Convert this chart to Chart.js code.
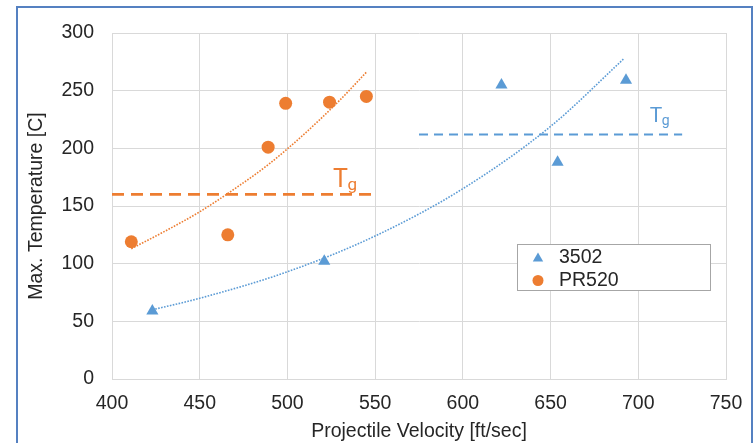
<!DOCTYPE html>
<html>
<head>
<meta charset="utf-8">
<script src="https://cdn.jsdelivr.net/npm/chart.js@4"></script>
<style>
html,body{margin:0;padding:0;background:#fff}
#wrap{position:relative;width:756px;height:443px;overflow:hidden}
#frame{position:absolute;left:16px;top:6px;width:737px;height:470px;border:2px solid #5581c1;box-sizing:border-box}
canvas{position:absolute;left:0;top:0}
</style>
</head>
<body>
<div id="wrap"><div id="frame"></div><canvas id="grafico" width="756" height="443"></canvas></div>
<script>
let nomes=['3502','PR520']
let vel3502=[423, 521, 622, 654, 693]
let temp3502=[59, 102, 255, 188, 259]
let velPR520=[411, 466, 489, 499, 524, 545]
let tempPR520=[119, 125, 201, 239, 240, 245]
// linhas de tendencia (exponencial)
let tendVel3502=[423, 450, 500, 550, 600, 650, 692]
let tendTemp3502=[60, 70, 93, 124, 165, 219, 278]
let tendVelPR520=[411, 430, 450, 470, 490, 510, 530, 545]
let tendTempPR520=[113, 128, 145, 165, 187, 213, 242, 266]
// Tg
let tgVel3502=[575, 725]
let tgTemp3502=[212, 212]
let tgVelPR520=[400, 549]
let tgTempPR520=[160, 160]
let eixoX=[400, 450, 500, 550, 600, 650, 700, 750]
let eixoY=[0, 50, 100, 150, 200, 250, 300]

const azul='#5B9BD5'
const laranja='#ED7D31'
const fonte='"Liberation Sans", Arial, sans-serif'
const fonteTg='Roboto, "DejaVu Sans", sans-serif'

function pares(xs, ys){
    return xs.map((v,i)=>({x:v, y:ys[i]}))
}

function tgTexto(ctx, x, y, tam, cor){
    ctx.fillStyle=cor
    ctx.textBaseline='alphabetic'
    ctx.textAlign='left'
    ctx.font=tam+'px '+fonteTg
    ctx.fillText('T', x, y)
    let w=ctx.measureText('T').width
    ctx.font=Math.round(tam*0.68)+'px '+fonteTg
    ctx.fillText('g', x+w-0.5, y+3)
}

const extras={
    id:'extras',
    afterDatasetsDraw(chart){
        const {ctx, scales:{x, y}}=chart
        ctx.save()
        tgTexto(ctx, x.getPixelForValue(526), y.getPixelForValue(166.5), 25, laranja)
        tgTexto(ctx, x.getPixelForValue(706.5), y.getPixelForValue(222.8), 21, azul)

        // legenda
        ctx.fillStyle='#fff'
        ctx.strokeStyle='#a6a6a6'
        ctx.lineWidth=1
        ctx.fillRect(517.5, 244.5, 193, 46)
        ctx.strokeRect(517.5, 244.5, 193, 46)
        ctx.fillStyle=azul
        Chart.helpers.drawPoint(ctx, {pointStyle:'triangle', radius:6, rotation:0, borderWidth:0}, 538, 258.5)
        ctx.fillStyle=laranja
        Chart.helpers.drawPoint(ctx, {pointStyle:'circle', radius:5.5, rotation:0, borderWidth:0}, 538, 280.5)
        ctx.fillStyle='#262626'
        ctx.font='19.5px '+fonte
        ctx.textBaseline='middle'
        ctx.fillText(nomes[0], 559, 257.5)
        ctx.fillText(nomes[1], 559, 280.5)
        ctx.restore()
    }
}

const ctx=document.getElementById('grafico')
new Chart(ctx, {
    type:'scatter',
    data:{
        datasets:[{
            label:nomes[0],
            data:pares(vel3502, temp3502),
            pointStyle:'triangle',
            pointRadius:7,
            pointHoverRadius:7,
            backgroundColor:azul,
            borderColor:azul,
            borderWidth:0
        },{
            label:nomes[1],
            data:pares(velPR520, tempPR520),
            pointStyle:'circle',
            pointRadius:6.5,
            pointHoverRadius:6.5,
            backgroundColor:laranja,
            borderColor:laranja,
            borderWidth:0
        },{
            label:'tend 3502',
            data:pares(tendVel3502, tendTemp3502),
            showLine:true,
            pointRadius:0,
            borderColor:azul,
            borderWidth:1.6,
            borderDash:[1.6, 1.4],
            cubicInterpolationMode:'monotone'
        },{
            label:'tend PR520',
            data:pares(tendVelPR520, tendTempPR520),
            showLine:true,
            pointRadius:0,
            borderColor:laranja,
            borderWidth:1.6,
            borderDash:[1.6, 1.4],
            cubicInterpolationMode:'monotone'
        },{
            label:'Tg 3502',
            data:pares(tgVel3502, tgTemp3502),
            showLine:true,
            pointRadius:0,
            borderColor:azul,
            borderWidth:2.2,
            borderDash:[9, 6]
        },{
            label:'Tg PR520',
            data:pares(tgVelPR520, tgTempPR520),
            showLine:true,
            pointRadius:0,
            borderColor:laranja,
            borderWidth:2.8,
            borderDash:[12, 7]
        }]
    },
    options:{
        responsive:false,
        animation:false,
        devicePixelRatio:1,
        layout:{padding:{left:25, right:30, top:33, bottom:0}},
        plugins:{
            legend:{display:false},
            tooltip:{enabled:false}
        },
        scales:{
            x:{
                type:'linear',
                min:eixoX[0],
                max:eixoX[eixoX.length-1],
                afterBuildTicks:(s)=>{ s.ticks=eixoX.map(v=>({value:v})) },
                afterFit:(s)=>{ s.height=64 },
                grid:{color:'#d9d9d9', drawTicks:false},
                border:{color:'#d9d9d9'},
                ticks:{padding:13, color:'#262626', font:{family:fonte, size:19.5}},
                title:{display:true, text:'Projectile Velocity [ft/sec]', color:'#262626', padding:0, font:{family:fonte, size:19.5}}
            },
            y:{
                min:eixoY[0],
                max:eixoY[eixoY.length-1],
                afterBuildTicks:(s)=>{ s.ticks=eixoY.map(v=>({value:v})) },
                afterFit:(s)=>{ s.width=87 },
                grid:{color:'#d9d9d9', drawTicks:false},
                border:{color:'#d9d9d9'},
                ticks:{padding:18, color:'#262626', font:{family:fonte, size:19.5}},
                title:{display:true, text:'Max. Temperature [C]', color:'#262626', padding:0, font:{family:fonte, size:19.5}}
            }
        }
    },
    plugins:[extras]
})
</script>
</body>
</html>
